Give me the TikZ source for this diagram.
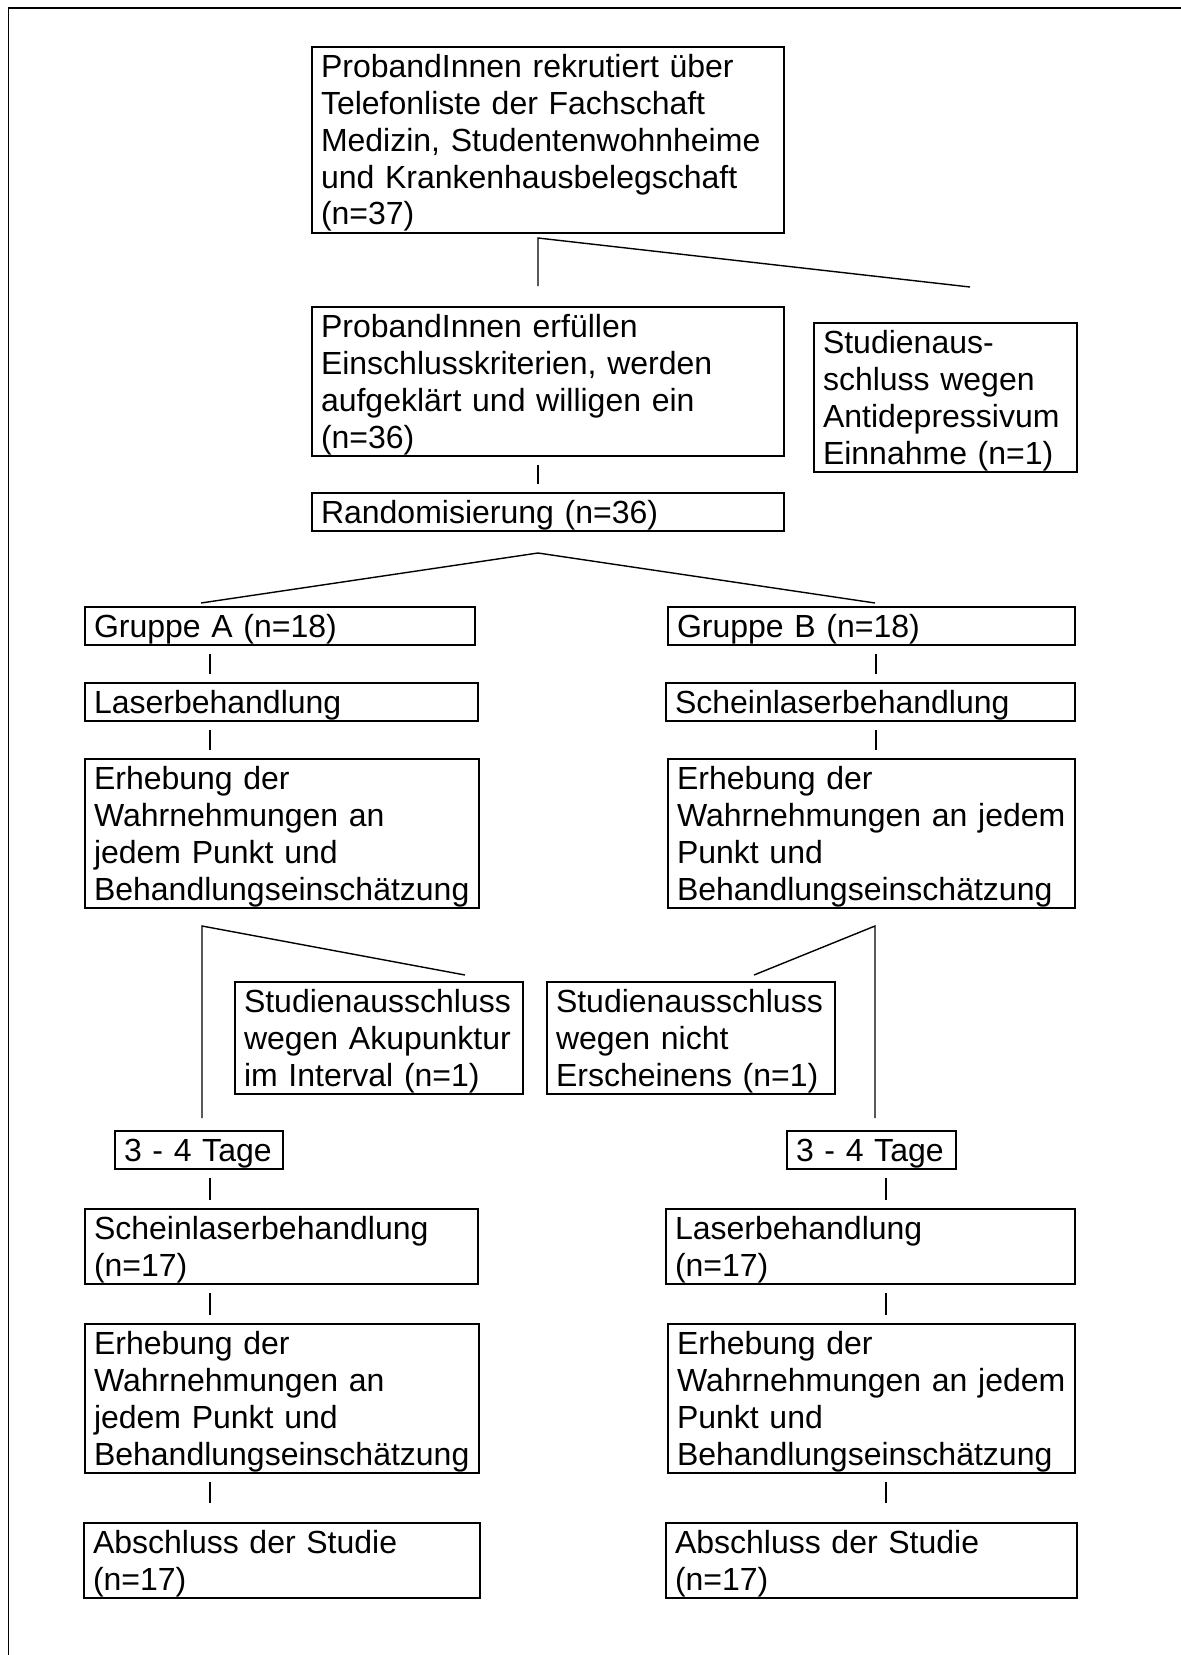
\documentclass[tikz,border=0pt]{standalone}
\usepackage{fontspec}
\setmainfont{Liberation Sans}
\hyphenpenalty=10000
\newcommand\boxstrut{\rule[-3.4pt]{0pt}{18.2pt}}

\begin{document}
\begin{tikzpicture}[x=0.5pt, y=-0.5pt,
    box/.style={draw, line width=1pt, anchor=north west, align=left,
                inner xsep=4.5pt, inner ysep=0.5pt, outer sep=0pt, text width=#1,
                font=\fontsize{16pt}{18.4pt}\selectfont,
                execute at begin node=\boxstrut, execute at end node=\boxstrut},
    link/.style={line width=0.7pt},
    tick/.style={line width=1.1pt, shorten <=4.5pt, shorten >=4.5pt}]
    \useasboundingbox (0,0) rectangle (1181,1655);
    \draw[line width=0.9pt] (8.5,1655) -- (8.5,8) -- (1181,8);

    \node[box=227pt] (rek) at (312,47) {ProbandInnen rekrutiert über\\Telefonliste der Fachschaft\\Medizin, Studentenwohnheime\\und Krankenhausbelegschaft\\(n=37)};
    \node[box=227pt] (ein) at (312,307) {ProbandInnen erfüllen\\Einschlusskriterien, werden\\aufgeklärt und willigen ein\\(n=36)};
    \node[box=122.5pt] (adx) at (814,323) {Studienaus-\\schluss wegen\\Antidepressivum\\Einnahme (n=1)};
    \node[box=227pt] (rand) at (312,493) {Randomisierung (n=36)};

    \node[box=186pt] (gra) at (85,607) {Gruppe A (n=18)};
    \node[box=194.5pt] (grb) at (668,607) {Gruppe B (n=18)};
    \node[box=187.5pt] (lasa) at (85,683) {Laserbehandlung};
    \node[box=195.5pt] (schb) at (666,683) {Scheinlaserbehandlung};
    \node[box=188pt] (erha) at (85,759) {Erhebung der\\Wahrnehmungen an\\jedem Punkt und\\Behandlungseinschätzung};
    \node[box=194.5pt] (erhb) at (668,759) {Erhebung der\\Wahrnehmungen an jedem\\Punkt und\\Behandlungseinschätzung};

    \node[box=135pt] (akx) at (235,982) {Studienausschluss\\wegen Akupunktur\\im Interval (n=1)};
    \node[box=135pt] (nex) at (547,982) {Studienausschluss\\wegen nicht\\Erscheinens (n=1)};

    \node[box=75pt] (taga) at (115,1131) {3 - 4 Tage};
    \node[box=75.5pt] (tagb) at (787,1131) {3 - 4 Tage};
    \node[box=187.5pt] (scha) at (85,1209) {Scheinlaserbehandlung\\(n=17)};
    \node[box=195.5pt] (lasb) at (666,1209) {Laserbehandlung\\(n=17)};
    \node[box=188pt] (erha2) at (85,1324) {Erhebung der\\Wahrnehmungen an\\jedem Punkt und\\Behandlungseinschätzung};
    \node[box=194.5pt] (erhb2) at (668,1324) {Erhebung der\\Wahrnehmungen an jedem\\Punkt und\\Behandlungseinschätzung};
    \node[box=189pt] (absa) at (84,1523) {Abschluss der Studie\\(n=17)};
    \node[box=196.5pt] (absb) at (666,1523) {Abschluss der Studie\\(n=17)};

    \coordinate (f1) at (538,238);
    \coordinate (f1a) at (538,286);
    \coordinate (f1b) at (970,287);
    \coordinate (f2) at (538,553);
    \coordinate (f2a) at (201,603);
    \coordinate (f2b) at (875,603);
    \coordinate (f3) at (202,926);
    \coordinate (f3a) at (202,1118);
    \coordinate (f3b) at (465,975);
    \coordinate (f4) at (875,926);
    \coordinate (f4a) at (875,1118);
    \coordinate (f4b) at (754,975);
    \coordinate (colA) at (210,0);
    \coordinate (colB) at (876,0);
    \coordinate (colC) at (886,0);

    \draw[link] (f1a) -- (f1) -- (f1b);
    \draw[link] (f2a) -- (f2) -- (f2b);
    \draw[link] (f3a) -- (f3) -- (f3b);
    \draw[link] (f4a) -- (f4) -- (f4b);

    \draw[tick] (ein.south -| f1) edge (rand.north -| f1)
                (gra.south -| colA) edge (lasa.north -| colA)
                (lasa.south -| colA) edge (erha.north -| colA)
                (grb.south -| colB) edge (schb.north -| colB)
                (schb.south -| colB) edge (erhb.north -| colB)
                (taga.south -| colA) edge (scha.north -| colA)
                (scha.south -| colA) edge (erha2.north -| colA)
                (tagb.south -| colC) edge (lasb.north -| colC)
                (lasb.south -| colC) edge (erhb2.north -| colC);
    \draw[tick, shorten >=10pt] (erha2.south -| colA) edge (absa.north -| colA)
                (erhb2.south -| colC) edge (absb.north -| colC);
\end{tikzpicture}
\end{document}
